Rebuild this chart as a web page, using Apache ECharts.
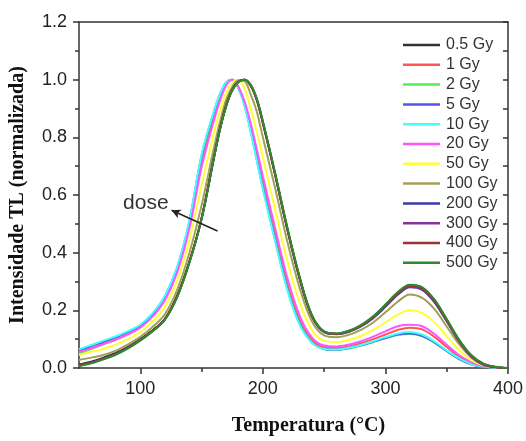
<!DOCTYPE html>
<html>
<head>
<meta charset="utf-8">
<script src="https://cdn.jsdelivr.net/npm/echarts@6/dist/echarts.min.js"></script>
<style>html,body{margin:0;padding:0;background:#fff}#c{width:526px;height:441px}</style>
</head>
<body>
<div id="c"></div>
<script>
const temps = [50,60,70,80,90,100,110,120,130,140,150,160,165,170,175,180,185,190,195,200,210,220,230,240,250,260,270,280,290,300,310,320,330,340,350,360,370,380,390,400];
const seriesNames = ['0.5 Gy','1 Gy','2 Gy','5 Gy','10 Gy','20 Gy','50 Gy','100 Gy','200 Gy','300 Gy','400 Gy','500 Gy'];
const d0_5 = [.012,.022,.036,.052,.073,.100,.131,.170,.250,.368,.518,.728,.828,.908,.963,.992,1.0,.982,.933,.853,.674,.484,.314,.182,.126,.119,.128,.148,.178,.219,.262,.288,.279,.236,.168,.098,.044,.014,.003,0];
const d1 = [.052,.068,.085,.101,.120,.143,.182,.240,.338,.494,.716,.872,.938,.983,1.0,.975,.920,.836,.740,.643,.465,.292,.166,.097,.072,.069,.075,.086,.100,.116,.132,.140,.134,.108,.073,.040,.017,.006,.001,0];
const d2 = [.050,.066,.082,.099,.118,.142,.183,.243,.342,.502,.730,.884,.946,.988,1.0,.973,.915,.827,.729,.630,.450,.278,.156,.090,.066,.063,.068,.078,.090,.103,.114,.118,.110,.088,.058,.031,.013,.004,.001,0];
const d5 = [.060,.076,.091,.107,.125,.148,.188,.248,.347,.507,.736,.888,.949,.990,1.0,.972,.913,.824,.725,.625,.445,.274,.153,.089,.066,.063,.069,.079,.091,.104,.116,.120,.112,.089,.059,.032,.013,.004,.001,0];
const d10 = [.065,.080,.095,.110,.128,.150,.190,.250,.350,.510,.740,.890,.950,.990,1.0,.970,.910,.820,.720,.620,.440,.270,.150,.088,.066,.064,.070,.080,.093,.107,.120,.125,.116,.092,.061,.034,.014,.005,.001,0];
const d20 = [.056,.068,.083,.098,.117,.140,.178,.234,.330,.482,.696,.858,.926,.980,1.0,.975,.925,.850,.760,.665,.486,.312,.182,.106,.078,.075,.081,.093,.109,.127,.145,.150,.145,.118,.081,.045,.020,.007,.002,0];
const d50 = [.045,.056,.066,.081,.100,.125,.161,.212,.302,.443,.634,.813,.892,.955,.990,1.0,.970,.900,.820,.730,.550,.371,.227,.132,.094,.090,.097,.111,.132,.158,.185,.200,.191,.158,.110,.063,.027,.009,.002,0];
const d100 = [.028,.036,.045,.060,.082,.108,.142,.186,.270,.398,.564,.762,.854,.930,.975,.998,.995,.950,.890,.800,.624,.438,.278,.162,.113,.107,.115,.132,.158,.193,.230,.255,.243,.204,.144,.083,.036,.011,.003,0];
const d200 = [.010,.019,.033,.049,.071,.098,.129,.169,.248,.366,.518,.728,.830,.910,.965,.993,1.0,.980,.930,.850,.670,.480,.310,.180,.124,.117,.125,.144,.173,.212,.254,.280,.271,.228,.162,.093,.041,.012,.003,0];
const d300 = [.009,.018,.032,.048,.070,.097,.128,.168,.247,.366,.519,.729,.829,.909,.964,.993,1.0,.980,.931,.851,.671,.481,.311,.181,.125,.118,.126,.145,.175,.214,.256,.282,.273,.230,.164,.094,.041,.012,.003,0];
const d400 = [.009,.018,.032,.048,.070,.097,.129,.169,.248,.367,.519,.729,.830,.910,.965,.993,1.0,.981,.931,.852,.672,.482,.312,.181,.125,.118,.127,.146,.176,.216,.258,.285,.276,.233,.166,.096,.042,.013,.003,0];
const d500 = [.006,.016,.030,.046,.068,.095,.127,.167,.245,.364,.516,.726,.827,.907,.963,.992,1.0,.983,.935,.856,.677,.487,.316,.184,.127,.120,.129,.149,.179,.220,.263,.289,.280,.237,.170,.099,.045,.015,.004,0];
const seriesValues = [d0_5,d1,d2,d5,d10,d20,d50,d100,d200,d300,d400,d500];
const colors = ['#333333','#ff5555','#55ee55','#5555ee','#44ffff','#ff55ff','#ffff33','#a0a055','#3838a8','#883399','#993333','#2f8a2f'];
const xMajorTicks = [100,200,300,400];
const xMinorTicks = [150,250,350];
const doseArrow = [[163,0.475],[125.5,0.547]];
const doseLabelPos = [104.5,0.571];

const chart = echarts.init(document.getElementById('c'), null, {renderer:'canvas'});
const axisColor = '#333';
const series = seriesNames.map((n,i)=>({
  name:n, type:'line', smooth:0.35, symbol:'none', showSymbol:false,
  lineStyle:{width:2,color:colors[i]}, itemStyle:{color:colors[i]},
  data: temps.map((t,j)=>[t, seriesValues[i][j]]), z: 2
}));
series.push({
  name:'annotation', type:'line', data:[], silent:true, symbol:'none',
  markLine:{silent:true, symbol:['none','arrow'], symbolSize:[7,9],
    lineStyle:{color:'#222',width:1.5,type:'solid'}, label:{show:false},
    data:[[{coord:doseArrow[0]},{coord:doseArrow[1]}]]},
  markPoint:{silent:true, symbol:'circle', symbolSize:0,
    label:{show:true, formatter:'dose', color:'#333', fontSize:21, fontFamily:'Liberation Sans, Arial', position:'inside'},
    data:[{coord:doseLabelPos}]}
});
chart.setOption({
  animation:false,
  backgroundColor:'#fff',
  grid:{left:79,right:16,top:22,bottom:70},
  legend:{show:true, orient:'vertical', left:403, top:37, padding:0, icon:'rect', itemWidth:37, itemHeight:2.5, itemGap:3.8,
    data:seriesNames,
    textStyle:{fontSize:16, lineHeight:16, color:'#333', fontFamily:'Liberation Sans, Arial', padding:[0,0,0,1]}},
  xAxis:[
    {type:'value', min:50, max:400, position:'bottom',
     axisLine:{show:true,lineStyle:{color:axisColor,width:1.5}},
     axisTick:{show:true, inside:false, length:6, customValues:xMajorTicks, lineStyle:{color:axisColor,width:1.5}},
     axisLabel:{show:true, customValues:xMajorTicks, margin:12, fontSize:18, color:'#222', fontFamily:'Liberation Sans, Arial'},
     splitLine:{show:false},
     name:'Temperatura (°C)', nameLocation:'middle', nameGap:48,
     nameTextStyle:{fontFamily:'Liberation Serif, Times New Roman', fontWeight:'bold', fontSize:20, color:'#111', padding:[0,0,0,30]}},
    {type:'value', min:50, max:400, position:'bottom',
     axisLine:{show:false},
     axisTick:{show:true, inside:false, length:4, customValues:xMinorTicks, lineStyle:{color:axisColor,width:1.5}},
     axisLabel:{show:false}, splitLine:{show:false}},
    {type:'value', min:50, max:400, position:'top',
     axisLine:{show:true,lineStyle:{color:axisColor,width:1.5}},
     axisTick:{show:false}, axisLabel:{show:false}, splitLine:{show:false}}
  ],
  yAxis:[
    {type:'value', min:0, max:1.2, interval:0.2, position:'left',
     axisLine:{show:true,lineStyle:{color:axisColor,width:1.5}},
     axisTick:{show:true, inside:false, length:6, lineStyle:{color:axisColor,width:1.5}},
     minorTick:{show:true, splitNumber:2, length:4, lineStyle:{color:axisColor,width:1.5}},
     axisLabel:{margin:12, fontSize:18, color:'#222', fontFamily:'Liberation Sans, Arial', formatter:v=>v.toFixed(1)},
     splitLine:{show:false}, minorSplitLine:{show:false},
     name:'Intensidade TL (normalizada)', nameLocation:'middle', nameGap:51, nameRotate:90,
     nameTextStyle:{fontFamily:'Liberation Serif, Times New Roman', fontWeight:'bold', fontSize:20, color:'#111'}},
    {type:'value', min:0, max:1.2, interval:0.2, position:'right',
     axisLine:{show:true,lineStyle:{color:axisColor,width:1.5}},
     axisTick:{show:true, inside:true, length:5, lineStyle:{color:axisColor,width:1.5}},
     minorTick:{show:true, splitNumber:2, length:5, lineStyle:{color:axisColor,width:1.5}},
     axisLabel:{show:false}, splitLine:{show:false}, minorSplitLine:{show:false}}
  ],
  series: series
});
</script>
</body>
</html>
